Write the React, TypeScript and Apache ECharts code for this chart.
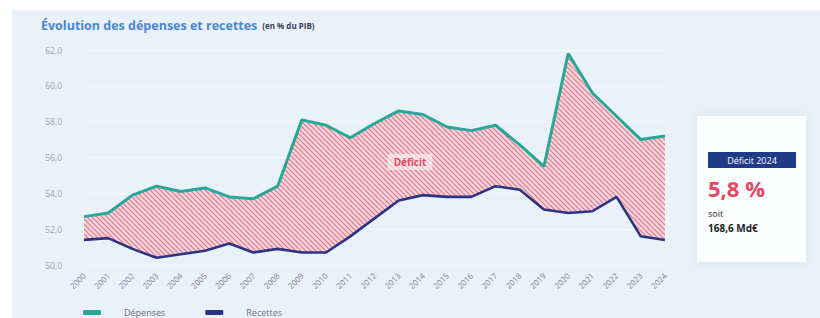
import React, { useEffect, useRef } from "react";
import * as echarts from "echarts";

const years = ["2000","2001","2002","2003","2004","2005","2006","2007","2008","2009","2010","2011","2012","2013","2014","2015","2016","2017","2018","2019","2020","2021","2022","2023","2024"];
const depenses = [52.7,52.9,53.9,54.4,54.1,54.3,53.8,53.7,54.4,58.1,57.8,57.1,57.9,58.6,58.4,57.7,57.5,57.8,56.7,55.5,61.8,59.6,58.3,57.0,57.2];
const recettes = [51.4,51.5,50.9,50.4,50.6,50.8,51.2,50.7,50.9,50.7,50.7,51.6,52.6,53.6,53.9,53.8,53.8,54.4,54.2,53.1,52.9,53.0,53.8,51.6,51.4];
const yTicks = { min: 50, max: 62, interval: 2 };

function makePattern(): string {
  const c = document.createElement("canvas");
  const s = 5;
  c.width = s; c.height = s;
  const ctx = c.getContext("2d")!;
  ctx.fillStyle = "#f7d6dc";
  ctx.fillRect(0, 0, s, s);
  ctx.strokeStyle = "#e6748a";
  ctx.lineWidth = 1.2;
  ctx.beginPath();
  ctx.moveTo(-1, -1); ctx.lineTo(s + 1, s + 1);
  ctx.moveTo(-1, s - 1); ctx.lineTo(1, s + 1);
  ctx.moveTo(s - 1, -1); ctx.lineTo(s + 1, 1);
  ctx.stroke();
  return c.toDataURL();
}

export default function App() {
  const ref = useRef<HTMLDivElement>(null);
  useEffect(() => {
    const chart = echarts.init(ref.current!, null, { renderer: "svg" });
    const diff = depenses.map((d, i) => +(d - recettes[i]).toFixed(2));
    const pattern = makePattern();
    chart.setOption({
      animation: false,
      backgroundColor: "#ffffff",
      title: {
        left: 36, top: 11,
        text: "{a|Évolution des dépenses et recettes} {b|(en % du PIB)}",
        textStyle: {
          rich: {
            a: { color: "#4a86d2", fontSize: 12.5, fontWeight: "bold", fontFamily: "Open Sans" },
            b: { color: "#3a3f55", fontSize: 8, fontWeight: "bold", fontFamily: "Open Sans" },
          },
        },
      },
      graphic: [
        { type: "rect", z: -10, shape: { x: 12, y: 10, width: 808, height: 308 }, style: { fill: "#e9f1f9" } },
        { type: "rect", z: 5, shape: { x: 697, y: 116, width: 109, height: 146 }, style: { fill: "#fbfdff", shadowBlur: 8, shadowColor: "rgba(150,170,200,0.25)" } },
        { type: "rect", z: 6, shape: { x: 708, y: 152, width: 88, height: 16 }, style: { fill: "#1f3a86" } },
        { type: "text", z: 7, x: 752, y: 160, style: { text: "Déficit 2024", fill: "#ffffff", fontSize: 9, fontFamily: "Open Sans", align: "center", verticalAlign: "middle" } },
        { type: "text", z: 7, x: 708, y: 188, style: { text: "5,8 %", fill: "#e6475f", fontSize: 22, fontWeight: "bold", fontFamily: "Open Sans", verticalAlign: "middle" } },
        { type: "text", z: 7, x: 708, y: 213, style: { text: "soit", fill: "#333333", fontSize: 9, fontFamily: "Open Sans", verticalAlign: "middle" } },
        { type: "text", z: 7, x: 708, y: 228, style: { text: "168,6 Md€", fill: "#1e1e28", fontSize: 10, fontWeight: "bold", fontFamily: "Open Sans", verticalAlign: "middle" } },
        { type: "text", z: 7, x: 410, y: 162, style: { text: "Déficit", fill: "#e04a62", fontSize: 10, fontWeight: "bold", fontFamily: "Open Sans", align: "center", verticalAlign: "middle", backgroundColor: "rgba(255,255,255,0.55)", padding: [3, 6] } },
      ],
      legend: {
        left: 78, top: 303, itemWidth: 18, itemHeight: 5, itemGap: 40,
        icon: "roundRect",
        data: ["Dépenses", "Recettes"],
        textStyle: { color: "#6a7186", fontSize: 9, fontFamily: "Open Sans", padding: [0, 0, 0, 18] },
      },
      grid: { left: 84, right: 155, top: 50, bottom: 53, containLabel: false },
      xAxis: {
        type: "category", data: years, boundaryGap: false,
        axisLine: { show: false }, axisTick: { show: false },
        axisLabel: { rotate: 45, fontSize: 8, color: "#7d8496", margin: 9, fontFamily: "Open Sans" },
      },
      yAxis: {
        type: "value", min: yTicks.min, max: yTicks.max, interval: yTicks.interval,
        axisLine: { show: false }, axisTick: { show: false },
        splitLine: { lineStyle: { color: "#f4f8fc", width: 1 } },
        axisLabel: { fontSize: 8.5, color: "#9aa3b6", margin: 22, formatter: (v: number) => v.toFixed(1).replace(".", ","), fontFamily: "Open Sans" },
      },
      series: [
        { name: "base", type: "line", stack: "s", data: recettes, symbol: "none", lineStyle: { opacity: 0 }, silent: true, z: 1 },
        { name: "diff", type: "line", stack: "s", data: diff, symbol: "none", lineStyle: { opacity: 0 }, areaStyle: { color: { image: pattern, repeat: "repeat" }, opacity: 1 }, silent: true, z: 1 },
        { name: "Dépenses", type: "line", data: depenses, symbol: "none", color: "#26a89b", lineStyle: { color: "#26a89b", width: 3 }, z: 3 },
        { name: "Recettes", type: "line", data: recettes, symbol: "none", color: "#2b3382", lineStyle: { color: "#2b3382", width: 2.6 }, z: 3 },
      ],
    });
    return () => chart.dispose();
  }, []);
  return <div ref={ref} style={{ width: 820, height: 318, position: "absolute", left: 0, top: 0 }} />;
}
